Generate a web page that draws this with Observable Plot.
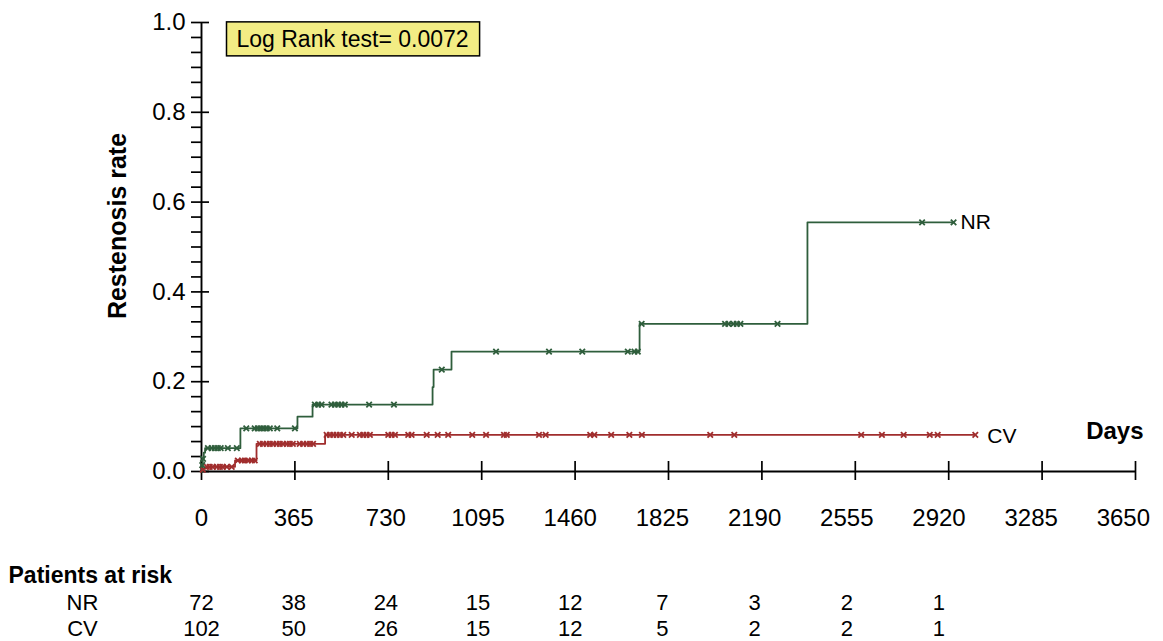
<!DOCTYPE html>
<html>
<head>
<meta charset="utf-8">
<script src="https://cdn.jsdelivr.net/npm/d3@7"></script>
<script src="https://cdn.jsdelivr.net/npm/@observablehq/plot@0.6"></script>
<style>
  html, body { margin: 0; padding: 0; background: #fff; }
  #chart { width: 1163px; height: 641px; }
</style>
</head>
<body>
<div id="chart"></div>
<script>
// ---- Data ----
const nrStepDays  = [0, 2, 5, 9, 14, 152, 375, 434, 903, 907, 977, 1712, 2368, 2939];
const nrStepRates = [0, 0.014, 0.028, 0.042, 0.052, 0.096, 0.122, 0.149, 0.188, 0.227, 0.267, 0.329, 0.555, 0.555];
const cvStepDays  = [0, 2, 6, 18, 131, 215, 483, 3024];
const cvStepRates = [0, 0.004, 0.007, 0.0105, 0.0245, 0.0616, 0.0817, 0.0817];

const nrCensorDays = [3, 6, 25, 40, 52, 64, 75, 103, 138, 175, 208, 220, 232, 243, 255, 267, 296, 365,
  443, 456, 469, 508, 521, 534, 547, 560, 655, 752, 939, 1151, 1358, 1488, 1666, 1692, 1705, 1720,
  2046, 2059, 2079, 2092, 2106, 2251, 2816, 2939];
const cvCensorDays = [5, 21, 32, 44, 60, 72, 83, 99, 118, 142, 158, 169, 181, 197, 208, 228, 240, 255,
  267, 279, 294, 306, 318, 334, 345, 357, 384, 397, 412, 424, 436, 489, 502, 515, 528, 541, 554, 587,
  619, 632, 645, 658, 730, 743, 756, 808, 821, 880, 923, 964, 1058, 1112, 1182, 1193, 1319, 1345, 1519,
  1535, 1601, 1672, 1721, 1988, 2082, 2578, 2659, 2744, 2846, 2877, 3024];

const xTicks = [0, 365, 730, 1095, 1460, 1825, 2190, 2555, 2920, 3285, 3650];
const yTicks = [0, 0.2, 0.4, 0.6, 0.8, 1.0];
const riskDays = [0, 365, 730, 1095, 1460, 1825, 2190, 2555, 2920];
const nrRisk = [72, 38, 24, 15, 12, 7, 3, 2, 1];
const cvRisk = [102, 50, 26, 15, 12, 5, 2, 2, 1];
const logRankText = "Log Rank test= 0.0072";

// ---- Build tables ----
const steps = (days, rates, g) => days.map((d, i) => ({day: d, rate: rates[i], group: g}));
const nrSteps = steps(nrStepDays, nrStepRates, "NR");
const cvSteps = steps(cvStepDays, cvStepRates, "CV");
const rateAt = (days, rates, t) => { let r = rates[0]; days.forEach((d, i) => { if (d <= t) r = rates[i]; }); return r; };
const nrCensor = nrCensorDays.map(t => ({day: t, rate: rateAt(nrStepDays, nrStepRates, t)}));
const cvCensor = cvCensorDays.map(t => ({day: t, rate: rateAt(cvStepDays, cvStepRates, t)}));
const minorTicks = d3.range(0, 31).filter(i => i % 6 !== 0).map(i => i / 30);

const green = "#2f5e3c";
const red = "#a02d2d";
const labelPos = d => d * 0.987; // tick labels sit slightly left of ticks in the original
const FONT = "Liberation Sans, Arial, Helvetica, sans-serif";

const plot = Plot.plot({
  width: 1163,
  height: 641,
  marginLeft: 201,
  marginRight: 28,
  marginTop: 22,
  marginBottom: 170,
  style: {fontFamily: FONT, background: "white", color: "black", overflow: "visible"},
  x: {domain: [0, 3650]},
  y: {domain: [0, 1]},
  marks: [
    // y axis: minor ticks (left), major ticks (crossing)
    Plot.axisY({ticks: minorTicks, tickSize: 10, tickFormat: () => "", label: null, strokeWidth: 1.7}),
    Plot.axisY({ticks: yTicks, tickSize: 18, dx: 8, tickPadding: 6, tickFormat: d3.format(".1f"),
      fontSize: 24, label: null, strokeWidth: 1.7}),
    // x axis ticks crossing the axis line
    Plot.axisX({ticks: xTicks, tickSize: 19, dy: -10, tickFormat: () => "", label: null, strokeWidth: 1.7}),
    Plot.text(xTicks, {x: labelPos, text: d => String(d), frameAnchor: "bottom", dy: 47,
      fontSize: 24, lineAnchor: "middle", fill: "black"}),
    Plot.ruleX([0], {strokeWidth: 1.9}),
    Plot.ruleY([0], {strokeWidth: 1.9}),
    // curves
    Plot.line(cvSteps, {x: "day", y: "rate", curve: "step-after", stroke: red, strokeWidth: 1.8}),
    Plot.line(nrSteps, {x: "day", y: "rate", curve: "step-after", stroke: green, strokeWidth: 1.8}),
    Plot.dot(cvCensor, {x: "day", y: "rate", symbol: "times", r: 2.6, stroke: red, strokeWidth: 1.8}),
    Plot.dot(nrCensor, {x: "day", y: "rate", symbol: "times", r: 2.6, stroke: green, strokeWidth: 1.8}),
    // end labels
    Plot.text([nrSteps[nrSteps.length - 1]], {x: "day", y: "rate", text: d => d.group, textAnchor: "start",
      dx: 7, fontSize: 21, fill: "black"}),
    Plot.text([cvSteps[cvSteps.length - 1]], {x: "day", y: "rate", text: d => d.group, textAnchor: "start",
      dx: 12, dy: 1, fontSize: 21, fill: "black"}),
    // axis titles
    Plot.text(["Days"], {text: d => d, frameAnchor: "bottom-right", textAnchor: "end", dx: 8, dy: -33,
      fontSize: 24, fontWeight: "bold", fill: "black"}),
    Plot.text(["Restenosis rate"], {text: d => d, frameAnchor: "left", textAnchor: "middle", rotate: -90,
      dx: -84, dy: -21, fontSize: 25, fontWeight: "bold", fill: "black"}),
    // log rank annotation
    Plot.text([logRankText], {text: d => d, frameAnchor: "top-left", textAnchor: "start", lineAnchor: "middle",
      dx: 35, dy: 17, fontSize: 23, fill: "black"}),
    // patients at risk table
    Plot.text(["Patients at risk"], {text: d => d, frameAnchor: "bottom-left", textAnchor: "start",
      lineAnchor: "middle", dx: -193, dy: 104, fontSize: 23, fontWeight: "bold", fill: "black"}),
    Plot.text(["NR"], {text: d => d, frameAnchor: "bottom-left", textAnchor: "middle", lineAnchor: "middle",
      dx: -119, dy: 131, fontSize: 22, fill: "black"}),
    Plot.text(["CV"], {text: d => d, frameAnchor: "bottom-left", textAnchor: "middle", lineAnchor: "middle",
      dx: -119, dy: 157, fontSize: 22, fill: "black"}),
    Plot.text(riskDays, {x: labelPos, text: (d, i) => String(nrRisk[i]), frameAnchor: "bottom", dy: 131,
      lineAnchor: "middle", fontSize: 22, fill: "black"}),
    Plot.text(riskDays, {x: labelPos, text: (d, i) => String(cvRisk[i]), frameAnchor: "bottom", dy: 157,
      lineAnchor: "middle", fontSize: 22, fill: "black"})
  ]
});
document.getElementById("chart").append(plot);

// Box behind the log-rank annotation
d3.select(plot).selectAll("text").filter(function () { return this.textContent === logRankText; })
  .each(function () {
    const bb = this.getBBox();
    d3.select(this.parentNode).insert("rect", () => this)
      .attr("transform", this.getAttribute("transform"))
      .attr("x", bb.x - 10).attr("y", bb.y + bb.height / 2 - 17)
      .attr("width", bb.width + 21).attr("height", 34)
      .attr("fill", "#f2ec84").attr("stroke", "black").attr("stroke-width", 1.5);
  });
</script>
</body>
</html>
